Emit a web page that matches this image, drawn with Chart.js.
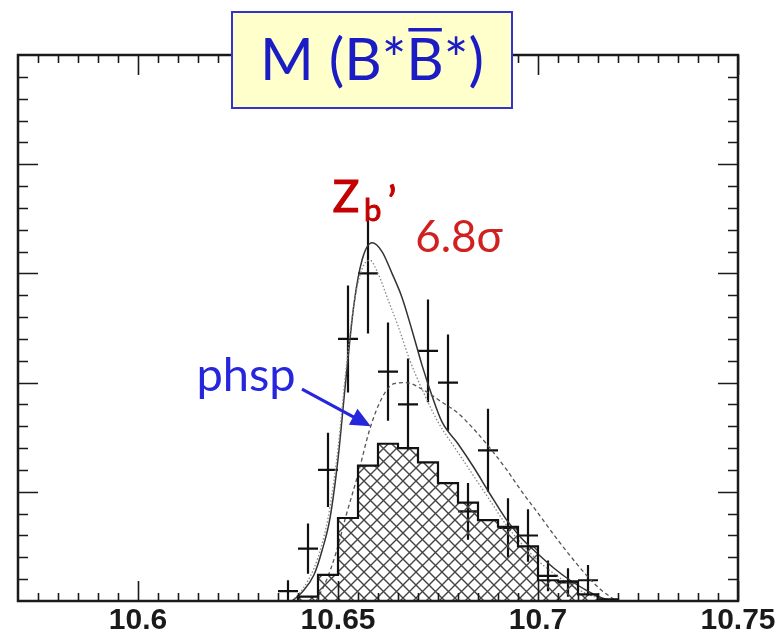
<!DOCTYPE html>
<html lang="en">
<head>
<meta charset="UTF-8">
<title>M(B*B*) mass spectrum</title>
<script src="https://cdn.jsdelivr.net/npm/chart.js"></script>
<style>
  html, body { margin: 0; padding: 0; background: #fff; }
  #massChart { display: block; }
</style>
</head>
<body>
<canvas id="massChart" width="782" height="643"></canvas>
<script>
// 5 MeV bins, centres in GeV
const binCenters = [10.6375, 10.6425, 10.6475, 10.6525, 10.6575, 10.6625, 10.6675, 10.6725,
                    10.6775, 10.6825, 10.6875, 10.6925, 10.6975, 10.7025, 10.7075, 10.7125];
const counts      = [0.45, 2.4, 6.0, 12.0, 15.0, 10.5, 9.0, 11.45, 10.0, 4.1, 6.9, 3.35, 3.0, 1.15, 0.85, 0.95];
const countErrors = [0.5, 1.15, 1.7, 2.45, 2.75, 2.25, 2.1, 2.35, 2.2, 1.3, 1.9, 1.35, 1.2, 0.7, 0.65, 0.7];

// hatched histogram: lower bin edges, contents, last upper edge
const histEdges  = [10.640, 10.645, 10.650, 10.655, 10.660, 10.665, 10.670, 10.675,
                    10.680, 10.685, 10.690, 10.695, 10.700, 10.705, 10.710, 10.715];
const histValues = [0.2, 1.2, 3.8, 6.2, 7.2, 7.0, 6.35, 5.4, 4.5, 3.7, 3.4, 2.5, 0.95, 0.9, 0.3, 0.08];
const histEnd = 10.720;

// total fit (solid)
const fitX   = [10.6385, 10.641, 10.644, 10.646, 10.648, 10.650, 10.652, 10.654, 10.656, 10.6585,
                10.661, 10.6635, 10.666, 10.6685, 10.671, 10.6735, 10.676, 10.680, 10.684, 10.688,
                10.692, 10.696, 10.700, 10.704, 10.708, 10.712, 10.716, 10.719];
const fitTotal = [0, 0.4, 1.2, 2.3, 3.8, 6.5, 10.2, 13.6, 15.6, 16.4,
                  16.0, 15.0, 13.9, 12.4, 10.8, 9.4, 8.2, 7.2, 6.1, 4.9,
                  3.75, 2.85, 2.15, 1.5, 0.95, 0.5, 0.14, 0];

// alternative fit (dotted)
const altX   = [10.6385, 10.641, 10.644, 10.646, 10.648, 10.650, 10.652, 10.654, 10.656, 10.658,
                10.660, 10.6625, 10.665, 10.668, 10.671, 10.675, 10.680, 10.684, 10.688, 10.692,
                10.696, 10.700, 10.704, 10.708, 10.712, 10.716, 10.718];
const altFit = [0, 0.5, 1.5, 2.6, 4.3, 7.0, 10.6, 13.6, 15.2, 15.6,
                15.0, 13.8, 12.6, 11.0, 9.7, 8.2, 6.8, 5.7, 4.6, 3.5,
                2.6, 1.85, 1.25, 0.75, 0.35, 0.08, 0];

// phase space shape (dashed)
const phspX   = [10.6445, 10.647, 10.6495, 10.652, 10.655, 10.658, 10.661, 10.664, 10.667, 10.671,
                 10.6756, 10.680, 10.6838, 10.688, 10.6922, 10.696, 10.7005, 10.7045, 10.7088, 10.7125,
                 10.7155, 10.7195];
const phspFit = [0, 0.9, 2.2, 3.9, 5.8, 7.9, 9.3, 9.95, 10.0, 9.7,
                 9.15, 8.6, 7.9, 7.0, 6.0, 5.0, 3.9, 2.9, 1.9, 1.1,
                 0.55, 0];

const xTickLabels = [10.6, 10.65, 10.7, 10.75];

const pts = (xs, ys) => xs.map((v, i) => ({ x: v, y: ys[i] }));

// error bars as broken line segments
const vertBars = [], horizBars = [];
binCenters.forEach((c, i) => {
  vertBars.push({ x: c, y: counts[i] - countErrors[i] }, { x: c, y: counts[i] + countErrors[i] }, { x: c, y: null });
  horizBars.push({ x: c - 0.0025, y: counts[i] }, { x: c + 0.0025, y: counts[i] }, { x: c, y: null });
});

const histPts = [{ x: histEdges[0], y: 0 }]
  .concat(pts(histEdges, histValues))
  .concat([{ x: histEnd, y: 0 }]);

// cross-hatch fill
function makeHatch() {
  const s = 13;
  const c = document.createElement('canvas');
  c.width = s; c.height = s;
  const g = c.getContext('2d');
  g.strokeStyle = '#444';
  g.lineWidth = 1.4;
  g.beginPath();
  g.moveTo(-2, -2); g.lineTo(s + 2, s + 2);
  g.moveTo(s + 2, -2); g.lineTo(-2, s + 2);
  g.stroke();
  return g.createPattern(c, 'repeat');
}

// fill text with a thin outline so it reads a little heavier
function heavyText(ctx, txt, px, py, w) {
  ctx.fillText(txt, px, py);
  ctx.lineWidth = w;
  ctx.strokeText(txt, px, py);
}

const frame = {
  id: 'frame',
  afterDatasetsDraw(chart) {
    const { ctx, chartArea: a, scales: { x, y } } = chart;
    ctx.save();
    ctx.strokeStyle = '#1a1a1a';
    ctx.lineWidth = 1.6;
    ctx.beginPath();
    for (let i = 0; i <= 35; i++) {
      const px = Math.round(x.getPixelForValue(10.575 + i * 0.005)) + 0.5;
      const len = i % 10 === 5 ? 20 : 8;
      ctx.moveTo(px, a.bottom); ctx.lineTo(px, a.bottom - len);
      ctx.moveTo(px, a.top); ctx.lineTo(px, a.top + len);
    }
    for (let v = 1; v < 25; v++) {
      const py = Math.round(y.getPixelForValue(v)) + 0.5;
      const len = v % 5 === 0 ? 20 : 10;
      ctx.moveTo(a.left, py); ctx.lineTo(a.left + len, py);
      ctx.moveTo(a.right, py); ctx.lineTo(a.right - len, py);
    }
    ctx.stroke();
    ctx.lineWidth = 2.5;
    ctx.strokeRect(a.left, a.top, a.right - a.left, a.bottom - a.top);
    ctx.restore();
  },
  afterDraw(chart) {
    const { ctx, scales: { x, y } } = chart;
    ctx.save();

    // title box
    ctx.fillStyle = '#ffffcc';
    ctx.fillRect(232, 12, 280, 96);
    ctx.strokeStyle = '#3434cc';
    ctx.lineWidth = 2;
    ctx.strokeRect(232, 12, 280, 96);

    ctx.fillStyle = '#1c1cc4';
    ctx.font = '58px Lato';
    ctx.textBaseline = 'alphabetic';
    const partA = 'M (B*', partB = 'B', partC = '*)';
    const wA = ctx.measureText(partA).width, wB = ctx.measureText(partB).width;
    const total = wA + wB + ctx.measureText(partC).width;
    let tx = 372 - total / 2;
    ctx.fillText(partA, tx, 80);
    ctx.fillText(partB, tx + wA, 80);
    ctx.fillText(partC, tx + wA + wB, 80);
    ctx.fillRect(tx + wA + 2, 28, wB - 4, 3.5);

    // Zb' label and significance
    ctx.fillStyle = '#c40000';
    ctx.strokeStyle = '#c40000';
    ctx.font = '44px Lato';
    heavyText(ctx, 'Z', x.getPixelForValue(10.6487), y.getPixelForValue(17.8), 1.2);
    ctx.font = '31px Lato';
    heavyText(ctx, 'b', x.getPixelForValue(10.6565), y.getPixelForValue(17.38), 1);
    ctx.font = '42px Lato';
    heavyText(ctx, '\u2019', x.getPixelForValue(10.6624), y.getPixelForValue(17.6), 1);
    ctx.fillStyle = '#d02020';
    ctx.font = '44px Lato';
    ctx.fillText('6.8\u03c3', x.getPixelForValue(10.6693), y.getPixelForValue(16.0));

    // phsp pointer
    ctx.fillStyle = '#2626dc';
    ctx.strokeStyle = '#2626dc';
    ctx.font = '47px Lato';
    ctx.fillText('phsp', x.getPixelForValue(10.6146), y.getPixelForValue(9.6));
    const x0 = x.getPixelForValue(10.6410), y0 = y.getPixelForValue(9.7);
    const x1 = x.getPixelForValue(10.6582), y1 = y.getPixelForValue(8.0);
    const ang = Math.atan2(y1 - y0, x1 - x0);
    ctx.lineWidth = 3.2;
    ctx.beginPath();
    ctx.moveTo(x0, y0);
    ctx.lineTo(x1 - 12 * Math.cos(ang), y1 - 12 * Math.sin(ang));
    ctx.stroke();
    ctx.beginPath();
    ctx.moveTo(x1, y1);
    ctx.lineTo(x1 - 20 * Math.cos(ang) + 9 * Math.sin(ang), y1 - 20 * Math.sin(ang) - 9 * Math.cos(ang));
    ctx.lineTo(x1 - 20 * Math.cos(ang) - 9 * Math.sin(ang), y1 - 20 * Math.sin(ang) + 9 * Math.cos(ang));
    ctx.closePath();
    ctx.fill();
    ctx.restore();
  }
};

const lineDefaults = { pointRadius: 0, pointHoverRadius: 0, fill: false };

new Chart(document.getElementById('massChart'), {
  type: 'line',
  data: {
    datasets: [
      Object.assign({}, lineDefaults, {
        label: 'hist', data: histPts, stepped: 'before',
        borderColor: '#111', borderWidth: 2.2, fill: 'origin', backgroundColor: makeHatch()
      }),
      Object.assign({}, lineDefaults, {
        label: 'phsp', data: pts(phspX, phspFit), cubicInterpolationMode: 'monotone',
        borderColor: '#555', borderWidth: 1.3, borderDash: [4, 3]
      }),
      Object.assign({}, lineDefaults, {
        label: 'alt', data: pts(altX, altFit), cubicInterpolationMode: 'monotone',
        borderColor: '#888', borderWidth: 1.3, borderDash: [1.5, 2]
      }),
      Object.assign({}, lineDefaults, {
        label: 'fit', data: pts(fitX, fitTotal), cubicInterpolationMode: 'monotone',
        borderColor: '#333', borderWidth: 1.5
      }),
      Object.assign({}, lineDefaults, {
        label: 'err', data: vertBars, borderColor: '#111', borderWidth: 2.2
      }),
      Object.assign({}, lineDefaults, {
        label: 'bin', data: horizBars, borderColor: '#111', borderWidth: 2.2
      })
    ]
  },
  options: {
    responsive: false,
    animation: false,
    devicePixelRatio: 1,
    layout: { padding: { left: 18, right: 44, top: 55, bottom: 2 } },
    plugins: { legend: { display: false }, tooltip: { enabled: false } },
    scales: {
      x: {
        type: 'linear', min: 10.57, max: 10.75,
        grid: { display: false, drawTicks: false },
        border: { display: false },
        afterBuildTicks: s => { s.ticks = xTickLabels.map(v => ({ value: v })); },
        ticks: {
          padding: 2, color: '#1a1a1a', maxRotation: 0, autoSkip: false,
          font: { family: 'Liberation Sans', size: 30, weight: 'bold' },
          callback: v => String(v)
        }
      },
      y: { display: false, min: 0, max: 25 }
    }
  },
  plugins: [frame]
});
</script>
</body>
</html>
